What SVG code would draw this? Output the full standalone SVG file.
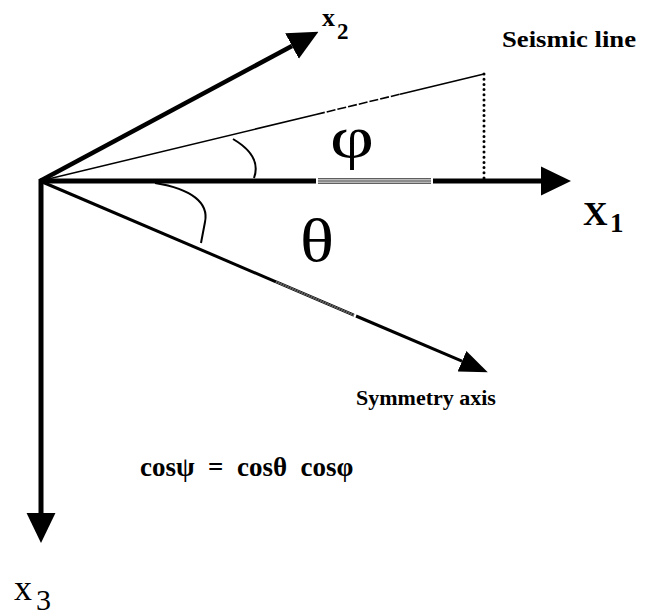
<svg xmlns="http://www.w3.org/2000/svg" width="646" height="616" viewBox="0 0 646 616">
<style>
.t{font-family:"Liberation Serif","Times New Roman",serif;fill:#000}
.b{font-weight:bold}
.thin{stroke:#000;stroke-width:0.9;fill:none}
.ax{stroke:#000;fill:none;stroke-linecap:butt}
</style>
<defs>
<marker id="ah" markerUnits="userSpaceOnUse" markerWidth="30" markerHeight="30" refX="0" refY="13" orient="auto" viewBox="0 0 27 26">
<path d="M0,0 L27,13 L0,26 z" fill="#000"/>
</marker>
<marker id="ahs" markerUnits="userSpaceOnUse" markerWidth="28" markerHeight="24" refX="0" refY="10" orient="auto" viewBox="0 0 25 20">
<path d="M0,0 L25,10 L0,20 z" fill="#000"/>
</marker>
</defs>
<rect width="646" height="616" fill="#fff"/>
<g id="connectors">
<line class="ax" x1="40" y1="181" x2="292" y2="46" stroke-width="4.5" marker-end="url(#ah)"/>
<line class="ax" x1="40" y1="181" x2="316" y2="181" stroke-width="5"/>
<line class="thin" x1="318" y1="178.8" x2="431" y2="178.8"/>
<line class="thin" x1="318" y1="181" x2="431" y2="181"/>
<line class="thin" x1="318" y1="183.2" x2="431" y2="183.2"/>
<line class="ax" x1="433" y1="181" x2="541" y2="181" stroke-width="5" marker-end="url(#ah)"/>
<line class="ax" x1="41" y1="179" x2="41" y2="513" stroke-width="5" marker-end="url(#ah)"/>
<line class="ax" x1="40" y1="181" x2="316" y2="114.5" stroke-width="1.6"/>
<line class="ax" x1="316" y1="114.5" x2="400" y2="94.2" stroke-width="1.6" stroke-dasharray="9 2"/>
<line class="ax" x1="400" y1="94.2" x2="484" y2="74" stroke-width="1.6"/>
<line x1="484" y1="74" x2="484" y2="180" stroke="#000" stroke-width="3" stroke-linecap="round" stroke-dasharray="0 5.2"/>
<line class="ax" x1="40" y1="181" x2="276" y2="281.8" stroke-width="3"/>
<line class="thin" x1="276.4" y1="280.8" x2="354.4" y2="314.2"/>
<line class="thin" x1="276" y1="281.8" x2="354" y2="315.2"/>
<line class="thin" x1="275.6" y1="282.8" x2="353.6" y2="316.2"/>
<line class="ax" x1="356" y1="316" x2="462" y2="361.2" stroke-width="3" marker-end="url(#ahs)"/>
<path class="ax" d="M233,139 Q262,156 254,178" stroke-width="2"/>
<path class="ax" d="M155,183 C192,189 209,203 205,222 L201,243" stroke-width="2"/>
</g>
<g id="label-x2"><text class="t b" x="322" y="26" font-size="26">x</text><text class="t b" x="337" y="39" font-size="23">2</text></g>
<g id="label-seismic"><text class="t b" x="502" y="47" font-size="23" textLength="134" lengthAdjust="spacingAndGlyphs">Seismic line</text></g>
<g id="label-phi"><text class="t" x="330" y="157" font-size="60" textLength="44" lengthAdjust="spacingAndGlyphs">φ</text></g>
<g id="label-X1"><text class="t b" x="583" y="225" font-size="34">X</text><text class="t b" x="610" y="232" font-size="27">1</text></g>
<g id="label-theta"><text class="t" x="300" y="261" font-size="62" textLength="34" lengthAdjust="spacingAndGlyphs">θ</text></g>
<g id="label-symmetry"><text class="t b" x="356" y="405" font-size="22">Symmetry axis</text></g>
<g id="formula"><text class="t b" x="140" y="476" font-size="27" xml:space="preserve">cosψ  =  cosθ  cosφ</text></g>
<g id="label-x3"><text class="t" x="14" y="600" font-size="36">x</text><text class="t" x="36" y="610" font-size="30">3</text></g>
</svg>
